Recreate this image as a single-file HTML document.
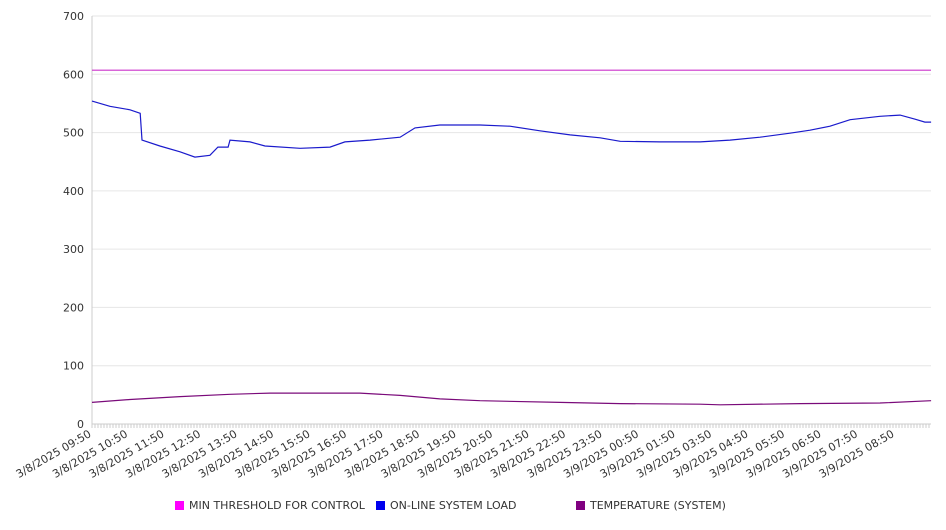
<!DOCTYPE html>
<html><head><meta charset="utf-8"><style>
body{margin:0;background:#fff;font-family:"DejaVu Sans","Liberation Sans",sans-serif}
svg text{font-family:"DejaVu Sans","Liberation Sans",sans-serif;fill:#333}
</style></head><body>
<svg id="chart" width="946" height="526" xmlns="http://www.w3.org/2000/svg"></svg>
<script>
const xLabels=["3/8/2025 09:50","3/8/2025 10:50","3/8/2025 11:50","3/8/2025 12:50","3/8/2025 13:50","3/8/2025 14:50","3/8/2025 15:50","3/8/2025 16:50","3/8/2025 17:50","3/8/2025 18:50","3/8/2025 19:50","3/8/2025 20:50","3/8/2025 21:50","3/8/2025 22:50","3/8/2025 23:50","3/9/2025 00:50","3/9/2025 01:50","3/9/2025 03:50","3/9/2025 04:50","3/9/2025 05:50","3/9/2025 06:50","3/9/2025 07:50","3/9/2025 08:50"];
const yTicks=[0,100,200,300,400,500,600,700];
const thresholdValue=607;
const loadPos=[0,0.49,1.04,1.32,1.37,1.86,2.41,2.82,3.23,3.45,3.73,3.78,4.33,4.74,5.7,6.52,6.93,7.62,8.44,8.85,9.53,10.63,11.45,12.27,13.1,13.92,14.47,15.56,16.66,17.48,18.3,19.12,19.67,20.22,20.77,21.59,22.14,22.55,22.82,22.99];
const loadValues=[554,545,539,533,487,477,467,458,461,475,475,487,484,477,473,475,484,487,492,508,513,513,511,503,496,491,485,484,484,487,492,499,504,511,522,528,530,523,518,518];
const tempPos=[0,1.04,2.41,3.78,4.88,7.34,8.44,9.53,10.63,12.82,14.47,16.66,17.21,19.4,21.59,22.99];
const tempValues=[37,42,47,51,53,53,49,43,40,37,35,34,33,35,36,40];
const NS="http://www.w3.org/2000/svg";
const svg=document.getElementById('chart');
const L=92,R=931,T=16,B=424,slot=36.5;
const xS=s=>L+s*slot;
const yS=v=>B-(v/700)*(B-T);
function mk(tag,attrs){const e=document.createElementNS(NS,tag);for(const k in attrs)e.setAttribute(k,attrs[k]);svg.appendChild(e);return e;}
yTicks.forEach(v=>{
  const g=mk('line',{x1:L,x2:R,y1:yS(v),y2:yS(v),stroke:v===0?'#ccc':'#e6e6e6','stroke-width':1});
  
  
  const t=mk('text',{x:L-8,y:yS(v)+4,'text-anchor':'end','font-size':11});
  t.textContent=v;
  
  
});
const ax=mk('line',{x1:L,x2:L,y1:T,y2:B,stroke:'#ccc'});


for(let x=L;x<=R;x+=3){const m=mk('line',{x1:x,x2:x,y1:B,y2:B+4,stroke:'#ccc'});

}
xLabels.forEach((lab,i)=>{
  const x=xS(i);
  const t=mk('text',{x:x,y:B+12,'text-anchor':'end','font-size':11,transform:`rotate(-30 ${x} ${B+12})`});
  t.textContent=lab;
  
  
});
const th=mk('line',{x1:L,x2:R,y1:yS(thresholdValue),y2:yS(thresholdValue),stroke:'#cc33cc','stroke-width':1.2});


function path(pos,vals,col,name){
  const d=pos.map((p,i)=>(i?'L':'M')+xS(p).toFixed(1)+','+yS(vals[i]).toFixed(1)).join('');
  const p=mk('path',{d:d,fill:'none',stroke:col,'stroke-width':1.2});
  
  
}
path(loadPos,loadValues,'#1a1acc','load-line');
path(tempPos,tempValues,'#7a0a7a','temperature-line');
const legend=[["MIN THRESHOLD FOR CONTROL","#ff00ff",175],["ON-LINE SYSTEM LOAD","#0000ee",376],["TEMPERATURE (SYSTEM)","#800080",576]];
legend.forEach(l=>{
  const r=mk('rect',{x:l[2],y:501,width:9,height:9,fill:l[1]});
  
  
  const t=mk('text',{x:l[2]+14,y:509,'font-size':11});
  t.textContent=l[0];
  
  
});
</script>
</body></html>
